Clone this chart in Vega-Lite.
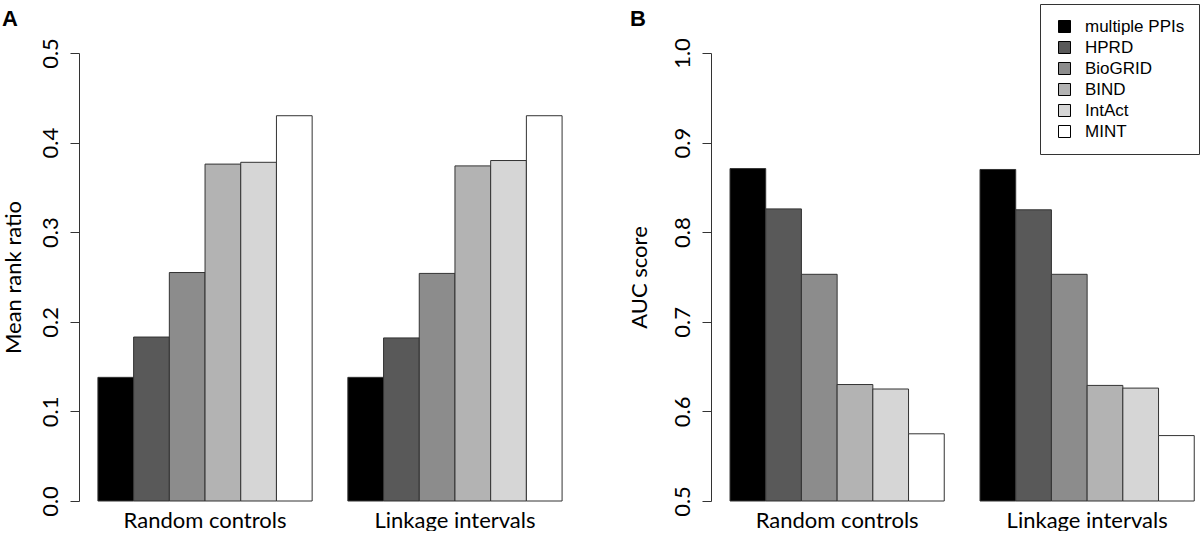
{
  "$schema": "https://vega.github.io/schema/vega-lite/v6.json",
  "autosize": {"type": "pad"},
  "padding": {"left": 2, "top": 3, "right": 0, "bottom": 0},
  "background": "white",
  "config": {
    "view": {"stroke": null},
    "font": "Lato",
    "axis": {"labelColor": "#000000", "titleColor": "#000000", "domainColor": "#333333", "tickColor": "#333333", "titleFontWeight": "normal", "labelFont": "Lato", "titleFont": "Lato"}
  },
  "datasets": {
    "rank": [
      {"interval": "Random controls", "source": "multiple PPIs", "value": 0.138},
      {"interval": "Random controls", "source": "HPRD", "value": 0.183},
      {"interval": "Random controls", "source": "BioGRID", "value": 0.255},
      {"interval": "Random controls", "source": "BIND", "value": 0.376},
      {"interval": "Random controls", "source": "IntAct", "value": 0.378},
      {"interval": "Random controls", "source": "MINT", "value": 0.430},
      {"interval": "Linkage intervals", "source": "multiple PPIs", "value": 0.138},
      {"interval": "Linkage intervals", "source": "HPRD", "value": 0.182},
      {"interval": "Linkage intervals", "source": "BioGRID", "value": 0.254},
      {"interval": "Linkage intervals", "source": "BIND", "value": 0.374},
      {"interval": "Linkage intervals", "source": "IntAct", "value": 0.380},
      {"interval": "Linkage intervals", "source": "MINT", "value": 0.430}
    ],
    "auc": [
      {"interval": "Random controls", "source": "multiple PPIs", "value": 0.871},
      {"interval": "Random controls", "source": "HPRD", "value": 0.826},
      {"interval": "Random controls", "source": "BioGRID", "value": 0.753},
      {"interval": "Random controls", "source": "BIND", "value": 0.630},
      {"interval": "Random controls", "source": "IntAct", "value": 0.625},
      {"interval": "Random controls", "source": "MINT", "value": 0.575},
      {"interval": "Linkage intervals", "source": "multiple PPIs", "value": 0.870},
      {"interval": "Linkage intervals", "source": "HPRD", "value": 0.825},
      {"interval": "Linkage intervals", "source": "BioGRID", "value": 0.753},
      {"interval": "Linkage intervals", "source": "BIND", "value": 0.629},
      {"interval": "Linkage intervals", "source": "IntAct", "value": 0.626},
      {"interval": "Linkage intervals", "source": "MINT", "value": 0.573}
    ]
  },
  "bounds": "flush",
  "spacing": 130,
  "resolve": {"scale": {"color": "independent"}, "legend": {"color": "independent"}},
  "hconcat": [
    {
      "width": 502,
      "height": 448,
      "title": {"text": "A", "anchor": "start", "frame": "group", "dx": -77, "offset": -10, "baseline": "alphabetic", "font": "Liberation Sans", "fontSize": 22, "fontWeight": "bold", "color": "#000000"},
      "data": {"name": "rank"},
      "mark": {"type": "bar", "stroke": "#333333", "strokeWidth": 1},
      "encoding": {
        "x": {"field": "interval", "type": "nominal", "sort": ["Random controls", "Linkage intervals"],
          "scale": {"paddingInner": 0.142857, "paddingOuter": 0.0757},
          "axis": {"title": null, "domain": false, "ticks": false, "labelAngle": 0, "labelFontSize": 22, "labelPadding": 9}},
        "xOffset": {"field": "source", "type": "nominal", "sort": ["multiple PPIs", "HPRD", "BioGRID", "BIND", "IntAct", "MINT"],
          "scale": {"paddingInner": 0, "paddingOuter": 0}},
        "y": {"field": "value", "type": "quantitative",
          "scale": {"domain": [0, 0.5], "nice": false, "zero": true},
          "axis": {"title": "Mean rank ratio", "titleFontSize": 22, "titlePadding": 14, "values": [0, 0.1, 0.2, 0.3, 0.4, 0.5], "format": ".1f", "grid": false,
            "labelAngle": -90, "labelAlign": "center", "labelBaseline": "bottom", "labelFontSize": 22, "labelPadding": 8, "tickSize": 9}},
        "color": {"field": "source", "type": "nominal",
          "scale": {"domain": ["multiple PPIs", "HPRD", "BioGRID", "BIND", "IntAct", "MINT"], "range": ["#000000", "#595959", "#8c8c8c", "#b3b3b3", "#d6d6d6", "#ffffff"]},
          "legend": null}
      }
    },
    {
      "width": 487,
      "height": 448,
      "title": {"text": "B", "anchor": "start", "frame": "group", "dx": -81, "offset": -44, "baseline": "alphabetic", "font": "Liberation Sans", "fontSize": 22, "fontWeight": "bold", "color": "#000000"},
      "data": {"name": "auc"},
      "mark": {"type": "bar", "stroke": "#333333", "strokeWidth": 1},
      "encoding": {
        "x": {"field": "interval", "type": "nominal", "sort": ["Random controls", "Linkage intervals"],
          "scale": {"paddingInner": 0.142857, "paddingOuter": 0.04545, "align": 0.837},
          "axis": {"title": null, "domain": false, "ticks": false, "labelAngle": 0, "labelFontSize": 22, "labelPadding": 9}},
        "xOffset": {"field": "source", "type": "nominal", "sort": ["multiple PPIs", "HPRD", "BioGRID", "BIND", "IntAct", "MINT"],
          "scale": {"paddingInner": 0, "paddingOuter": 0}},
        "y": {"field": "value", "type": "quantitative",
          "scale": {"domain": [0.5, 1.0], "nice": false, "zero": false},
          "axis": {"title": "AUC score", "titleFontSize": 22, "titlePadding": 20, "values": [0.5, 0.6, 0.7, 0.8, 0.9, 1.0], "format": ".1f", "grid": false,
            "labelAngle": -90, "labelAlign": "center", "labelBaseline": "bottom", "labelFontSize": 22, "labelPadding": 8, "tickSize": 9}},
        "y2": {"datum": 0.5},
        "color": {"field": "source", "type": "nominal",
          "scale": {"domain": ["multiple PPIs", "HPRD", "BioGRID", "BIND", "IntAct", "MINT"], "range": ["#000000", "#595959", "#8c8c8c", "#b3b3b3", "#d6d6d6", "#ffffff"]},
          "legend": {"orient": "none", "legendX": 329, "legendY": -49, "title": null, "strokeColor": "#333333", "fillColor": "#ffffff", "padding": 14,
            "symbolType": "square", "symbolSize": 144, "symbolStrokeColor": "#000000", "symbolStrokeWidth": 1, "symbolOffset": 2, "symbolOpacity": 1,
            "labelOffset": 12, "labelFont": "Liberation Sans", "labelFontSize": 17, "labelColor": "#000000", "rowPadding": 3}}
      }
    }
  ]
}
